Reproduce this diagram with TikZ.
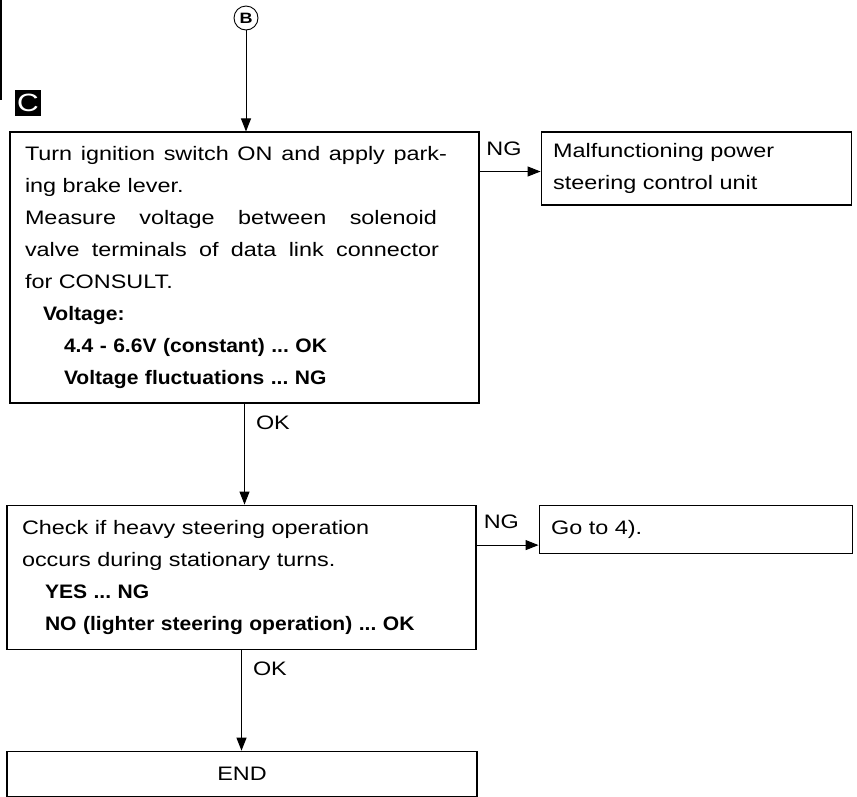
\documentclass[tikz,border=0pt]{standalone}
\usepackage{fontspec}
\setmainfont[FakeStretch=1.2]{Liberation Sans}
\newfontfamily\boldface[FakeStretch=1.08]{Liberation Sans}
\usetikzlibrary{arrows.meta, positioning}

\newcommand{\res}[1]{{\boldface\bfseries #1}}
\newcommand{\fullline}[2][422pt]{\makebox[#1][s]{\spaceskip=0.3em plus 1fil\relax #2}}

\begin{document}
\begin{tikzpicture}[
            x=1pt, y=-1pt,
            stepbox/.style={rectangle, draw, line width=1.1pt, align=left, inner xsep=15pt, inner ysep=0pt, font=\fontsize{19.5}{32}\selectfont\frenchspacing},
            resbox/.style={rectangle, draw, line width=1.1pt, align=left, inner xsep=12pt, inner ysep=0pt, font=\fontsize{19.5}{32}\selectfont\frenchspacing},
            arrow/.style={-{Triangle[length=13pt, width=10pt]}, line width=1pt},
            lbl/.style={font=\fontsize{19.5}{20}\selectfont, inner sep=2pt}
        ]
        \useasboundingbox (0,0) rectangle (857,796);
        \draw [line width=1.2pt] (1,0) -- (1,100);
        \node [circle, draw, line width=0.9pt, minimum size=24pt, inner sep=0pt, font=\bfseries\fontsize{15}{15}\selectfont] (mB) at (246,18) {B};
        \node [fill=black, text=white, minimum size=26pt, inner sep=0pt, font=\fontsize{25}{25}\selectfont] (secC) at (28,102.5) {C};
        \node [stepbox, text width=439pt, minimum height=271pt] (s1) at (244.5,267.5) {\fullline{Turn ignition switch ON and apply park-}\\
            ing brake lever.\\
            \fullline[412pt]{Measure voltage between solenoid}\\
            \fullline[414pt]{valve terminals of data link connector}\\
            for CONSULT.\\
            \hspace*{18pt}\res{Voltage:}\\
            \hspace*{39pt}\res{4.4 - 6.6V (constant) ... OK}\\
            \hspace*{39pt}\res{Voltage fluctuations ... NG}};
        \node [resbox, text width=286pt, minimum height=73pt, right=61pt of s1.north east, anchor=north west] (r1) {Malfunctioning power\\ steering control unit};
        \node [stepbox, text width=439pt, minimum height=144pt, below=101pt of s1, xshift=-3pt] (s2) {Check if heavy steering operation\\
            occurs during stationary turns.\\
            \hspace*{23pt}\res{YES ... NG}\\
            \hspace*{23pt}\res{NO (lighter steering operation) ... OK}};
        \node [resbox, text width=289pt, minimum height=48pt, right=62pt of s2.north east, anchor=north west] (r2) {Go to 4).};
        \node [stepbox, align=center, text width=440pt, minimum height=45pt, below=101pt of s2, xshift=0.5pt] (fin) {END};
        \coordinate (r1in) at ([yshift=-3pt]r1.west);
        \coordinate (r2in) at ([yshift=-16pt]r2.west);
        \draw [arrow] (mB) -- (mB |- s1.north);
        \draw [arrow] (s1.east |- r1in) -- node[lbl, pos=0.4, above=13.5pt]{NG} (r1in);
        \draw [arrow] (s1.south) -- node[lbl, pos=0.19, right=9pt]{OK} (s1.south |- s2.north);
        \draw [arrow] (s2.east |- r2in) -- node[lbl, pos=0.4, above=13.5pt]{NG} (r2in);
        \draw [arrow] (s2.south) -- node[lbl, pos=0.19, right=9pt]{OK} (s2.south |- fin.north);
    \end{tikzpicture}
\end{document}
